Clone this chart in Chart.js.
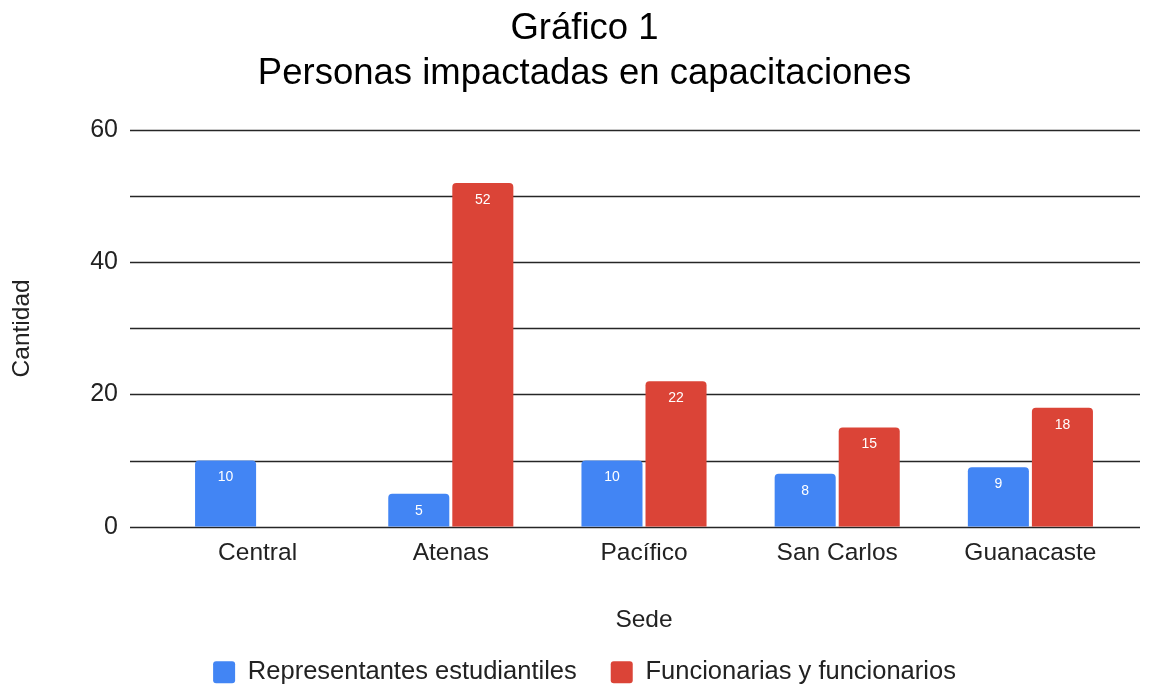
<!DOCTYPE html>
<html>
<head>
<meta charset="utf-8">
<script src="https://cdn.jsdelivr.net/npm/chart.js@4"></script>
<style>
  html, body { margin: 0; padding: 0; background: #fff; }
  #wrap { width: 1153px; height: 685px; }
</style>
</head>
<body>
<div id="wrap"><canvas id="myChart" width="1153" height="685"></canvas></div>
<script>
const sedes = ['Central', 'Atenas', 'Pacífico', 'San Carlos', 'Guanacaste'];
const representantes = [10, 5, 10, 8, 9];
const funcionarios = [0, 52, 22, 15, 18];
const yTicks = [0, 20, 40, 60];

const FONT = "'Liberation Sans', Arial, sans-serif";

// horizontal grid lines, a bit wider than the bar area (like the original)
const gridLines = {
  id: 'gridLines',
  beforeDatasetsDraw(chart) {
    const ctx = chart.ctx;
    const y = chart.scales.y;
    const area = chart.chartArea;
    ctx.save();
    ctx.strokeStyle = '#262626';
    ctx.lineWidth = 1.5;
    y.ticks.forEach(t => {
      const py = Math.round(y.getPixelForValue(t.value)) + 0.5;
      ctx.beginPath();
      ctx.moveTo(area.left - 31, py);
      ctx.lineTo(area.right + 13, py);
      ctx.stroke();
    });
    ctx.restore();
  }
};

// value labels inside the top of each bar
const barLabels = {
  id: 'barLabels',
  afterDatasetsDraw(chart) {
    const ctx = chart.ctx;
    ctx.save();
    ctx.fillStyle = '#fff';
    ctx.font = '14px ' + FONT;
    ctx.textAlign = 'center';
    ctx.textBaseline = 'middle';
    chart.data.datasets.forEach((ds, i) => {
      const meta = chart.getDatasetMeta(i);
      meta.data.forEach((bar, j) => {
        const v = ds.data[j];
        if (!v) return;
        ctx.fillText(v, bar.x, bar.y + 17);
      });
    });
    ctx.restore();
  }
};

const ctx = document.getElementById('myChart').getContext('2d');
new Chart(ctx, {
  type: 'bar',
  data: {
    labels: sedes,
    datasets: [{
      label: 'Representantes estudiantiles',
      data: representantes,
      backgroundColor: '#4285F4',
      borderRadius: { topLeft: 4, topRight: 4 },
      borderSkipped: 'bottom'
    }, {
      label: 'Funcionarias y funcionarios',
      data: funcionarios,
      backgroundColor: '#DB4437',
      borderRadius: { topLeft: 4, topRight: 4 },
      borderSkipped: 'bottom'
    }]
  },
  options: {
    responsive: false,
    animation: false,
    barPercentage: 0.953,
    categoryPercentage: 0.663,
    layout: { padding: { left: 42, right: 26, top: 0, bottom: -10 } },
    scales: {
      x: {
        grid: { display: false, drawTicks: false },
        border: { display: false },
        ticks: { color: '#222', padding: 12, font: { family: FONT, size: 24.5 } },
        title: {
          display: true, text: 'Sede', color: '#222',
          padding: { top: 25, bottom: -9 },
          font: { family: FONT, size: 24.5 }
        }
      },
      y: {
        min: 0,
        max: 60,
        afterFit(scale) { scale.width = 119; },
        grid: { display: false, drawTicks: false },
        border: { display: false },
        ticks: {
          stepSize: 10,
          padding: 43,
          color: '#222',
          font: { family: FONT, size: 25 },
          callback: v => yTicks.includes(v) ? v : ''
        },
        title: {
          display: true, text: 'Cantidad', color: '#222',
          padding: { top: -34, bottom: 0 },
          font: { family: FONT, size: 24.5 }
        }
      }
    },
    plugins: {
      title: {
        display: true,
        text: ['Gráfico 1', 'Personas impactadas en capacitaciones'],
        color: '#000',
        font: { family: FONT, size: 36.5, weight: 'normal', lineHeight: 1.22 },
        padding: { top: 7, bottom: 34 }
      },
      legend: {
        position: 'bottom',
        labels: {
          color: '#222',
          font: { family: FONT, size: 25.5 },
          boxWidth: 22,
          boxHeight: 22,
          useBorderRadius: true,
          borderRadius: 3,
          padding: 34
        }
      },
      tooltip: { enabled: false }
    }
  },
  plugins: [gridLines, barLabels]
});
</script>
</body>
</html>
